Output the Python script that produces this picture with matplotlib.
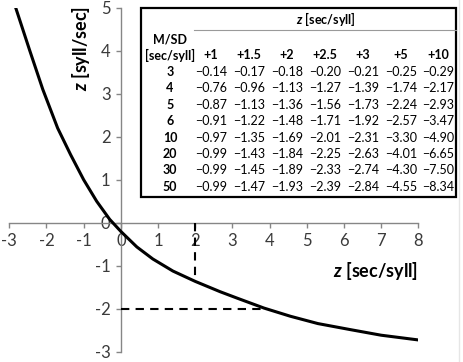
import matplotlib

matplotlib.use("Agg")

import matplotlib.pyplot as plt
from matplotlib.patches import Rectangle
from matplotlib.lines import Line2D

plt.rcParams["font.family"] = ["Lato", "DejaVu Sans"]
plt.rcParams["mathtext.fontset"] = "custom"
plt.rcParams["mathtext.it"] = "Lato:italic:bold"
plt.rcParams["mathtext.rm"] = "Lato:bold"
plt.rcParams["axes.unicode_minus"] = False

# conversion curve (M/SD = 5)
curve_x = [-2.83, -2.45, -2.10, -1.70, -1.35, -1.00, -0.65, -0.30, 0.00, 0.43,
           0.86, 1.40, 2.00, 2.67, 3.13, 3.85, 4.56, 5.30, 6.17, 7.00, 8.00]
curve_y = [5.00, 4.00, 3.10, 2.20, 1.58, 1.00, 0.50, 0.08, -0.20, -0.56,
           -0.84, -1.12, -1.36, -1.60, -1.75, -1.98, -2.17, -2.34, -2.48, -2.61, -2.72]

# dashed guide: z = 2 sec/syll  ->  z = -2 syll/sec
guide_time_z = 2.0
guide_rate_z = -2.0
guide_time_hit = -1.36
guide_rate_hit = 3.9

ms_labels = ["3", "4", "5", "6", "10", "20", "30", "50"]
z_headers = ["+1", "+1.5", "+2", "+2.5", "+3", "+5", "+10"]
table_values = [
    [-0.14, -0.17, -0.18, -0.20, -0.21, -0.25, -0.29],
    [-0.76, -0.96, -1.13, -1.27, -1.39, -1.74, -2.17],
    [-0.87, -1.13, -1.36, -1.56, -1.73, -2.24, -2.93],
    [-0.91, -1.22, -1.48, -1.71, -1.92, -2.57, -3.47],
    [-0.97, -1.35, -1.69, -2.01, -2.31, -3.30, -4.90],
    [-0.99, -1.43, -1.84, -2.25, -2.63, -4.01, -6.65],
    [-0.99, -1.45, -1.89, -2.33, -2.74, -4.30, -7.50],
    [-0.99, -1.47, -1.93, -2.39, -2.84, -4.55, -8.34],
]

W, H = 463, 362
fig = plt.figure(figsize=(W / 100, H / 100), dpi=100)
ax = fig.add_axes([9.3 / W, 1 - 352 / H, 409 / W, 344.5 / H])

axis_gray = "#868686"
text_gray = "#3a3a3a"

ax.plot(curve_x, curve_y, color="black", linewidth=2.2, solid_capstyle="butt",
        solid_joinstyle="round", zorder=3)
ax.plot([guide_time_z, guide_time_z], [0, guide_time_hit], color="black",
        linewidth=1.5, dashes=(4, 3), zorder=3)
ax.plot([0, guide_rate_hit], [guide_rate_z, guide_rate_z], color="black",
        linewidth=1.5, dashes=(4, 3), zorder=3)

ax.set_xlim(-3, 8)
ax.set_ylim(-3, 5)
ax.set_xticks(range(-3, 9))
ax.set_yticks(range(-3, 6))
for side in ("top", "right"):
    ax.spines[side].set_visible(False)
for side in ("left", "bottom"):
    ax.spines[side].set_position(("data", 0))
    ax.spines[side].set_color(axis_gray)
    ax.spines[side].set_linewidth(1.0)
ax.tick_params(direction="out", length=3.5, width=1.0, color=axis_gray,
               labelcolor=text_gray, labelsize=12, pad=4)
ax.patch.set_visible(False)

ax.text(-1.08, 4.04, r"$z$ [syll/sec]", rotation=90, ha="center", va="center",
        fontsize=13, fontweight="bold", color="black")
ax.text(8.0, -1.11, r"$z$ [sec/syll]", ha="right", va="center",
        fontsize=13, fontweight="bold", color="black")


def fx(px):
    return px / W


def fy(py):
    return 1 - py / H


# table box
left, right, top, bottom = 141, 456, 8, 197
fig.patches.append(Rectangle((fx(left), fy(bottom)), fx(right) - fx(left),
                             fy(top) - fy(bottom), transform=fig.transFigure,
                             facecolor="white", edgecolor="black", linewidth=1.6,
                             zorder=5))
fig.lines.append(Line2D([fx(194), fx(right)], [fy(30), fy(30)],
                        transform=fig.transFigure, color="#9a9a9a",
                        linewidth=0.8, zorder=6))
# faint frame line at the right edge of the picture
fig.lines.append(Line2D([fx(459), fx(459)], [0, 1], transform=fig.transFigure,
                        color="#e6e6e6", linewidth=1.0, zorder=1))

col_x = [211, 249, 287, 325, 363, 401, 438]
row_y = [72, 88, 105, 121, 138, 154, 170, 187]
label_x = 170
fs = 9

fig.text(fx(326), fy(19), r"$z$ [sec/syll]", ha="center", va="center",
         fontsize=fs, fontweight="bold", zorder=7)
fig.text(fx(label_x), fy(40), "M/SD", ha="center", va="center",
         fontsize=fs, fontweight="bold", zorder=7)
fig.text(fx(label_x), fy(55), "[sec/syll]", ha="center", va="center",
         fontsize=fs, fontweight="bold", zorder=7)
for cx, head in zip(col_x, z_headers):
    fig.text(fx(cx), fy(55), head, ha="center", va="center",
             fontsize=fs, fontweight="bold", zorder=7)
for ry, lab, row in zip(row_y, ms_labels, table_values):
    fig.text(fx(label_x), fy(ry), lab, ha="center", va="center",
             fontsize=fs, fontweight="bold", zorder=7)
    for cx, val in zip(col_x, row):
        fig.text(fx(cx), fy(ry), f"\u2212{abs(val):.2f}", ha="center",
                 va="center", fontsize=fs, zorder=7)

fig.savefig("out.png", dpi=100)
